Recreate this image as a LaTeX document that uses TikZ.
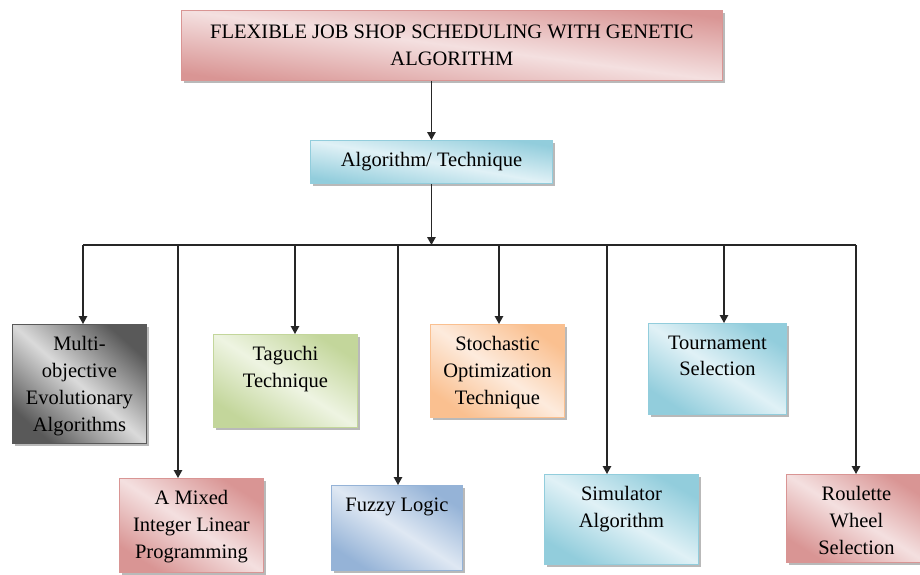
\documentclass[tikz,border=0pt]{standalone}
\usepackage{fontspec}
\setmainfont{Liberation Serif}
\usetikzlibrary{arrows.meta,shadows}
\definecolor{pinkD}{HTML}{D99594}
\definecolor{pinkL}{HTML}{F4E0E0}
\definecolor{blueD}{HTML}{92CDDC}
\definecolor{blueL}{HTML}{E0F1F6}
\definecolor{greenD}{HTML}{C3D69B}
\definecolor{greenL}{HTML}{EEF4E2}
\definecolor{orangeD}{HTML}{FAC090}
\definecolor{orangeL}{HTML}{FDEBDD}
\definecolor{fuzzyD}{HTML}{95B3D7}
\definecolor{fuzzyL}{HTML}{DFE8F3}
\definecolor{grayD}{HTML}{595959}
\definecolor{grayL}{HTML}{DADADA}
\tikzset{
  box/.style n args={3}{draw=#1, line width=0.9pt, top color=#1, bottom color=#1, middle color=#2,
     shading angle=#3, inner sep=0pt, anchor=north west,
     drop shadow={shadow xshift=2.5pt, shadow yshift=-2.5pt, fill=black!50, opacity=0.55}},
  boxtext/.style={anchor=north, align=center, inner sep=0pt, yshift=-12.5pt,
     font=\fontsize{20.5}{26.7}\selectfont},
  conn/.style={draw=black!85, line width=1.3pt},
  arr/.style={conn, -{Triangle[length=8pt,width=8.5pt]}},
}
\begin{document}
\begin{tikzpicture}[x=1pt,y=1pt]
\useasboundingbox (0,0) rectangle (920,-574);
% top
\node[box={pinkD}{pinkL}{-7.4}, minimum width=541pt, minimum height=70pt, align=center,
      font=\fontsize{20.5}{27}\selectfont] (top) at (181,-10)
  {FLEXIBLE JOB SHOP SCHEDULING WITH GENETIC\\ALGORITHM};
\node[box={blueD}{blueL}{-10}, minimum width=242pt, minimum height=43pt,
      font=\fontsize{20.5}{26.7}\selectfont] (alg) at (310,-140) {Algorithm/ Technique};
% boxes
\node[box={grayD}{grayL}{-41.6}, minimum width=134pt, minimum height=119pt] (multi) at (12,-324) {};
\node[box={pinkD}{pinkL}{-33}, minimum width=144pt, minimum height=94pt] (mixed) at (119,-478) {};
\node[box={greenD}{greenL}{-33}, minimum width=144pt, minimum height=93pt] (tag) at (213,-334) {};
\node[box={fuzzyD}{fuzzyL}{-33}, minimum width=131pt, minimum height=85pt] (fuzzy) at (331,-485) {};
\node[box={orangeD}{orangeL}{-35}, minimum width=134pt, minimum height=93pt] (stoch) at (430,-324) {};
\node[box={blueD}{blueL}{-30}, minimum width=154pt, minimum height=90pt] (sim) at (544,-474) {};
\node[box={blueD}{blueL}{-33}, minimum width=138pt, minimum height=91pt] (tourn) at (648,-323) {};
\node[box={pinkD}{pinkL}{-32}, minimum width=140pt, minimum height=88pt] (roul) at (786,-474) {};
% texts
\node[boxtext] (tmulti) at (multi.north) {Multi-\\objective\\Evolutionary\\Algorithms};
\node[boxtext] (tmixed) at (mixed.north) {A Mixed\\Integer Linear\\Programming};
\node[boxtext] (ttag) at (tag.north) {Taguchi\\Technique};
\node[boxtext] (tfuzzy) at (fuzzy.north) {Fuzzy Logic};
\node[boxtext] (tstoch) at (stoch.north) {Stochastic\\Optimization\\Technique};
\node[boxtext] (tsim) at (sim.north) {Simulator\\Algorithm};
\node[boxtext] (ttourn) at (tourn.north) {Tournament\\Selection};
\node[boxtext] (troul) at (roul.north) {Roulette\\Wheel\\Selection};
% connectors
\draw[arr] (alg.north |- top.south) -- (alg.north);
\coordinate (busL) at (83,-245);
\coordinate (busR) at (856,-245);
\draw[arr] (alg.south) -- (alg.south |- busL);
\draw[conn] (busL) -- (busR);
\coordinate (d1) at (83,-245);
\coordinate (d2) at (178,-245);
\coordinate (d3) at (295,-245);
\coordinate (d4) at (398,-245);
\coordinate (d5) at (499,-245);
\coordinate (d6) at (607,-245);
\coordinate (d7) at (724,-245);
\coordinate (d8) at (856,-245);
\draw[arr] (d1) -- (d1 |- multi.north);
\draw[arr] (d2) -- (d2 |- mixed.north);
\draw[arr] (d3) -- (d3 |- tag.north);
\draw[arr] (d4) -- (d4 |- fuzzy.north);
\draw[arr] (d5) -- (d5 |- stoch.north);
\draw[arr] (d6) -- (d6 |- sim.north);
\draw[arr] (d7) -- (d7 |- tourn.north);
\draw[arr] (d8) -- (d8 |- roul.north);
\end{tikzpicture}
\end{document}
